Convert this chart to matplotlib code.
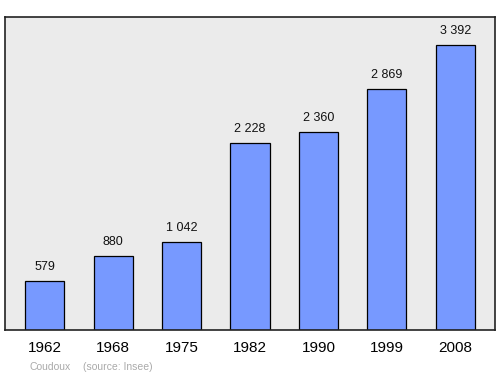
import matplotlib
matplotlib.use("Agg")
import matplotlib.pyplot as plt
import numpy as np

plt.rcParams['font.family'] = ['Liberation Sans', 'DejaVu Sans']

years = ['1962', '1968', '1975', '1982', '1990', '1999', '2008']
population = [579, 880, 1042, 2228, 2360, 2869, 3392]
value_labels = ['579', '880', '1 042', '2 228', '2 360', '2 869', '3 392']

fig = plt.figure(figsize=(5, 3.74), dpi=100)
ax = fig.add_axes([0.01, 0.1176, 0.98, 0.837])
ax.set_facecolor('#ebebeb')

x = np.arange(len(years))
ax.bar(x, population, width=0.57, color='#7799ff', edgecolor='black', linewidth=0.9, zorder=2)
for xi, val, lab in zip(x, population, value_labels):
    ax.text(xi, val + 95, lab, ha='center', va='bottom', fontsize=9, color='#111111')

ax.set_xlim(-0.58, 6.58)
ax.set_ylim(0, 3725)
ax.set_xticks(x)
ax.set_xticklabels(years, fontsize=11)
ax.tick_params(axis='x', length=0, pad=8)
ax.set_yticks([])
for s in ax.spines.values():
    s.set_linewidth(1.2)
    s.set_color('#222222')

fig.text(0.06, 0.012, 'Coudoux', fontsize=7.5, color='#aaaaaa')
fig.text(0.166, 0.012, '(source: Insee)', fontsize=7.5, color='#aaaaaa')

fig.savefig('out.png', dpi=100)
